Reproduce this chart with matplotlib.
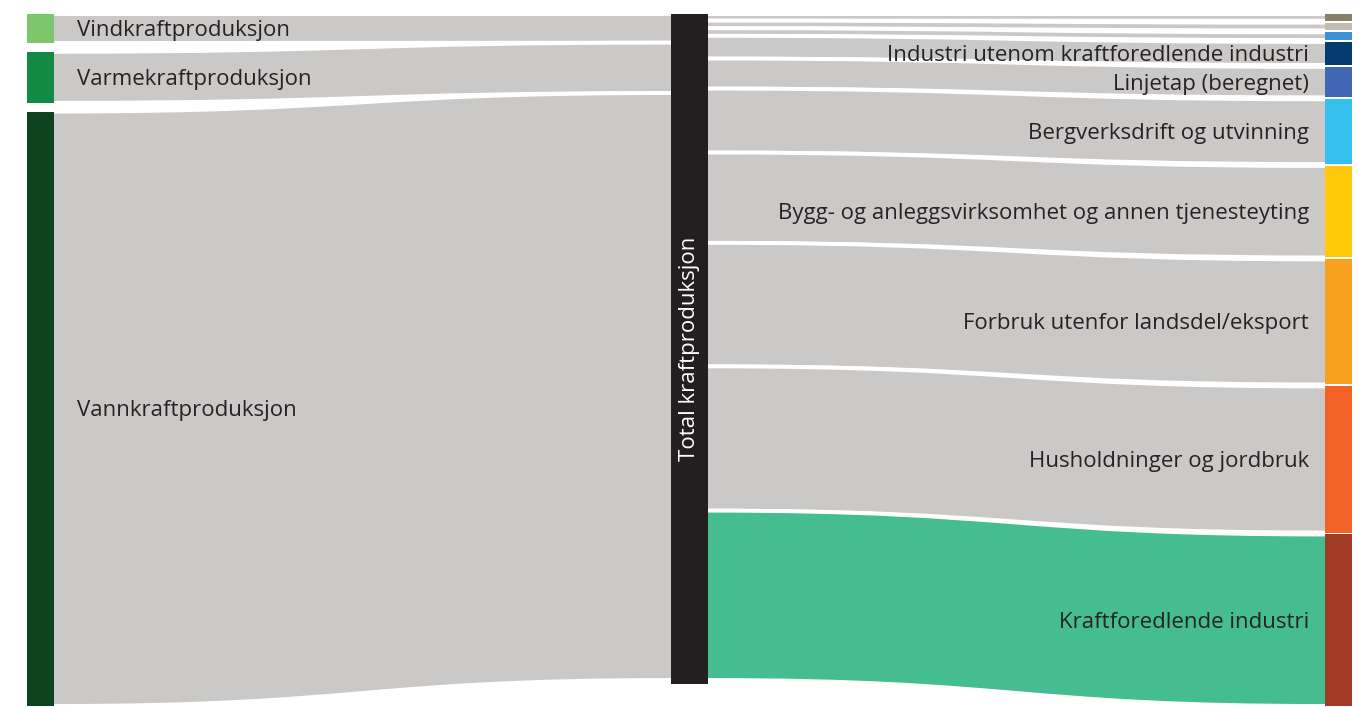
import matplotlib
matplotlib.use("Agg")
import matplotlib.pyplot as plt
from matplotlib.path import Path
from matplotlib.patches import PathPatch, Rectangle

# ---- data (TWh) ----
sources = ["Vindkraftproduksjon", "Varmekraftproduksjon", "Vannkraftproduksjon"]
source_values = [2.9, 5.1, 59.4]
source_colors = ["#7dc66c", "#128a44", "#0f4320"]

hub_label = "Total kraftproduksjon"
hub_color = "#231f20"

targets = [
    "",
    "",
    "",
    "Industri utenom kraftforedlende industri",
    "Linjetap (beregnet)",
    "Bergverksdrift og utvinning",
    "Bygg- og anleggsvirksomhet og annen tjenesteyting",
    "Forbruk utenfor landsdel/eksport",
    "Husholdninger og jordbruk",
    "Kraftforedlende industri",
]
target_values = [0.67, 0.77, 0.77, 2.30, 3.04, 6.47, 9.14, 12.50, 14.60, 17.14]
target_colors = ["#878068", "#c0bcaf", "#3d92d6", "#053a6e", "#4268b5",
                 "#36c0ef", "#ffc80a", "#f9a11f", "#f26226", "#a03b25"]
link_grey = "#cbc9c7"
link_highlight = "#45bd90"
target_link_colors = [link_grey] * 9 + [link_highlight]

plt.rcParams["font.family"] = ["Open Sans", "DejaVu Sans"]
text_color = "#262324"
font_size = 16
label_dy = 2  # small downward nudge so the text sits optically centred

# ---- layout (pixel canvas) ----
W, H = 1370, 707
top, bottom = 14, 706
left_x, mid_x, right_x = 27, 671, 1325
left_w, mid_w, right_w = 27, 37, 27
left_pad = 8.75
mid_span = 670        # height of the hub bar
mid_link_span = 666   # height occupied by links at the hub

total = sum(source_values)
k = (bottom - top - left_pad * (len(source_values) - 1)) / total
right_pad = (bottom - top - k * sum(target_values)) / (len(target_values) - 1)
k_mid = mid_link_span / total

fig = plt.figure(figsize=(W / 100, H / 100), dpi=100)
ax = fig.add_axes([0, 0, 1, 1])
ax.set_xlim(0, W)
ax.set_ylim(H, 0)
ax.axis("off")


def stack(values, scale, pad, start):
    spans = []
    y = start
    for v in values:
        spans.append((y, y + v * scale))
        y += v * scale + pad
    return spans


def band(xa, xb, ya, yb, color, xa_in, xb_in):
    """Curved link between two vertical intervals, drawn with a white outline."""
    xm = (xa + xb) / 2
    verts = [
        (xa_in, ya[0]), (xa, ya[0]),
        (xm, ya[0]), (xm, yb[0]), (xb, yb[0]),
        (xb_in, yb[0]), (xb_in, yb[1]), (xb, yb[1]),
        (xm, yb[1]), (xm, ya[1]), (xa, ya[1]),
        (xa_in, ya[1]), (xa_in, ya[0]),
    ]
    codes = [Path.MOVETO, Path.LINETO,
             Path.CURVE4, Path.CURVE4, Path.CURVE4,
             Path.LINETO, Path.LINETO, Path.LINETO,
             Path.CURVE4, Path.CURVE4, Path.CURVE4,
             Path.LINETO, Path.CLOSEPOLY]
    ax.add_patch(PathPatch(Path(verts, codes), facecolor=color,
                           edgecolor="white", linewidth=2.8, zorder=1))


src_spans = stack(source_values, k, left_pad, top)
tgt_spans = stack(target_values, k, right_pad, top)
mid_in = stack(source_values, k_mid, 0, top)
mid_out = stack(target_values, k_mid, 0, top)

# links: sources -> hub
for s, m in zip(src_spans, mid_in):
    band(left_x + left_w, mid_x, s, m, link_grey,
         left_x + left_w / 2, mid_x + mid_w / 2)

# links: hub -> targets
for m, t, c in zip(mid_out, tgt_spans, target_link_colors):
    band(mid_x + mid_w, right_x, m, t, c,
         mid_x + mid_w / 2, right_x + right_w / 2)

# nodes and labels
for (y0, y1), c, name in zip(src_spans, source_colors, sources):
    ax.add_patch(Rectangle((left_x, y0), left_w, y1 - y0, facecolor=c,
                           edgecolor="none", zorder=3))
    ax.text(left_x + left_w + 23, (y0 + y1) / 2 + label_dy, name, ha="left",
            va="center", fontsize=font_size, color=text_color, zorder=4)

ax.add_patch(Rectangle((mid_x, top), mid_w, mid_span, facecolor=hub_color,
                       edgecolor="none", zorder=3))
ax.text(mid_x + mid_w / 2, top + mid_span / 2, hub_label, rotation=90,
        ha="center", va="center", fontsize=font_size, color="white", zorder=4)

for (y0, y1), c, name in zip(tgt_spans, target_colors, targets):
    ax.add_patch(Rectangle((right_x, y0), right_w, y1 - y0, facecolor=c,
                           edgecolor="none", zorder=3))
    if name:
        ax.text(right_x - 16, (y0 + y1) / 2 + label_dy, name, ha="right",
                va="center", fontsize=font_size, color=text_color, zorder=4)

fig.savefig("out.png", dpi=100)
